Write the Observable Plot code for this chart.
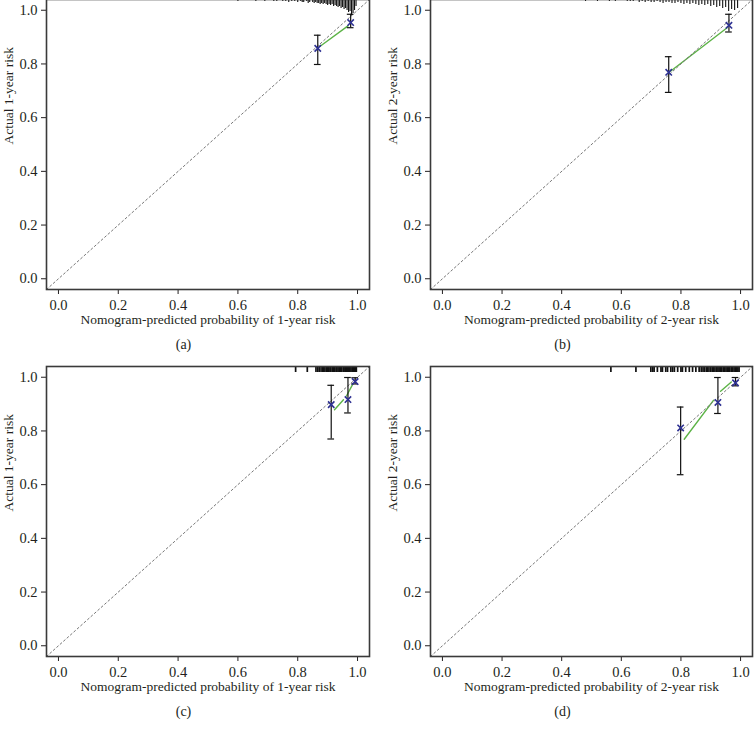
<!DOCTYPE html>
<html><head><meta charset="utf-8">
<script src="https://cdn.jsdelivr.net/npm/d3@7"></script>
<script src="https://cdn.jsdelivr.net/npm/@observablehq/plot@0.6"></script>
<style>
html,body{margin:0;padding:0;background:#fff;}
#wrap{position:relative;width:754px;height:734px;overflow:hidden;background:#fff;}
.panel{position:absolute;}
</style></head><body><div id="wrap"></div>
<script>
// ---- axis values ----
const tickValues = [0, 0.2, 0.4, 0.6, 0.8, 1.0];
const axisDomain = [-0.04, 1.04];

// ---- panel texts ----
const captions = ["(a)", "(b)", "(c)", "(d)"];
const xTitles = [
  "Nomogram-predicted probability of 1-year risk",
  "Nomogram-predicted probability of 2-year risk",
  "Nomogram-predicted probability of 1-year risk",
  "Nomogram-predicted probability of 2-year risk"
];
const yTitles = ["Actual 1-year risk", "Actual 2-year risk", "Actual 1-year risk", "Actual 2-year risk"];

// ---- calibration points (predicted, observed, CI) ----
const predA = [0.867, 0.977], obsA = [0.858, 0.954], loA = [0.798, 0.935], hiA = [0.907, 0.985];
const predB = [0.759, 0.961], obsB = [0.769, 0.944], loB = [0.694, 0.919], hiB = [0.827, 0.985];
const predC = [0.912, 0.968, 0.992], obsC = [0.898, 0.917, 0.984], loC = [0.770, 0.867, 0.975], hiC = [0.970, 0.999, 0.998];
const predD = [0.799, 0.924, 0.983], obsD = [0.811, 0.906, 0.979], loD = [0.637, 0.865, 0.968], hiD = [0.889, 0.999, 0.999];

// ---- green (bias-corrected) line segments ----
const greenAx = [0.875, 0.968], greenAy = [0.866, 0.942], greenAseg = [1, 1];
const greenBx = [0.765, 0.955], greenBy = [0.773, 0.935], greenBseg = [1, 1];
const greenCx = [0.923, 0.953, 0.963, 0.985], greenCy = [0.879, 0.916, 0.930, 0.976], greenCseg = [1, 1, 2, 2];
const greenDx = [0.811, 0.909, 0.933, 0.969], greenDy = [0.769, 0.914, 0.948, 0.982], greenDseg = [1, 1, 2, 2];

// ---- distribution of predictions (top rug) ----
const rugAx = [0.50,0.53,0.56,0.58,0.60,0.62,0.64,0.66,0.67,0.69,0.70,0.72,0.73,0.74,0.75,0.76,0.77,0.78,0.79,0.80,0.81,0.815,0.82,0.83,0.835,0.84,0.85,0.855,0.86,0.865,0.87,0.875,0.88,0.885,0.89,0.895,0.90,0.905,0.91,0.915,0.92,0.925,0.93,0.935,0.94,0.945,0.95,0.955,0.96,0.965,0.97,0.975,0.98,0.985,0.99,0.995];
const rugAn = [1,1,1,1,2,1,1,2,1,2, 1,2,2,1,2,2,3,2,2,3, 2,3,3,2,4,3,3,4,3,4, 4,5,4,5,4,5,6,5,6,5, 7,6,7,8,7,9,8,10,9,11, 13,12,16,14,11,7];
const rugBx = [0.24,0.27,0.30,0.33,0.36,0.39,0.41,0.44,0.46,0.48,0.50,0.52,0.54,0.56,0.58,0.60,0.62,0.63,0.64,0.66,0.67,0.68,0.69,0.70,0.71,0.72,0.73,0.74,0.75,0.76,0.77,0.78,0.79,0.80,0.81,0.82,0.83,0.84,0.85,0.86,0.87,0.88,0.89,0.90,0.91,0.92,0.93,0.94,0.95,0.96,0.97,0.98,0.99];
const rugBn = [1,1,1,1,1,1,1,1,1,2, 1,2,1,2,2,1,2,2,2,3, 2,3,2,3,3,2,3,4,3,3, 4,4,3,4,5,4,5,4,5,6, 5,6,5,7,6,8,7,9,8,12, 10,11,9];
const rugCx = [0.793,0.832,0.861,0.867,0.872,0.878,0.884,0.887,0.891,0.896,0.899,0.904,0.908,0.911,0.916,0.920,0.923,0.928,0.931,0.935,0.940,0.943,0.947,0.952,0.955,0.959,0.963,0.967,0.971,0.974,0.978,0.982,0.986,0.989,0.993,0.996];
const rugDx = [0.565,0.649,0.699,0.705,0.710,0.721,0.733,0.738,0.749,0.755,0.766,0.772,0.778,0.789,0.800,0.805,0.816,0.828,0.839,0.850,0.861,0.868,0.874,0.879,0.885,0.889,0.894,0.900,0.905,0.909,0.914,0.919,0.924,0.928,0.933,0.937,0.942,0.946,0.951,0.955,0.960,0.964,0.969,0.973,0.978,0.982,0.987,0.991,0.995];

// ---- build tables ----
const cal = (p, o, l, h) => p.map((v, i) => ({pred: v, obs: o[i], lo: l[i], hi: h[i]}));
const seg = (x, y, s) => x.map((v, i) => ({x: v, y: y[i], s: s[i]}));
const rug = (x, n) => x.map((v, i) => ({x: v, n: n ? n[i] : 6}));

const panels = [
  {cal: cal(predA, obsA, loA, hiA), green: seg(greenAx, greenAy, greenAseg), rug: rug(rugAx, rugAn), rugW: 1.1},
  {cal: cal(predB, obsB, loB, hiB), green: seg(greenBx, greenBy, greenBseg), rug: rug(rugBx, rugBn), rugW: 1.1},
  {cal: cal(predC, obsC, loC, hiC), green: seg(greenCx, greenCy, greenCseg), rug: rug(rugCx), rugW: 1.7},
  {cal: cal(predD, obsD, loD, hiD), green: seg(greenDx, greenDy, greenDseg), rug: rug(rugDx), rugW: 1.7}
];

// ---- layout ----
const layout = [
  {left: 0,   top: -11, height: 367, mL: 46, mR: 8, mT: 10, mB: 67, capX: 183},
  {left: 377, top: -11, height: 367, mL: 53, mR: 2, mT: 10, mB: 67, capX: 185},
  {left: 0,   top: 356, height: 378, mL: 46, mR: 8, mT: 10, mB: 78, capX: 183},
  {left: 377, top: 356, height: 378, mL: 53, mR: 2, mT: 10, mB: 78, capX: 185}
];

const ink = "#231f20";
const font = "'Liberation Serif', 'Times New Roman', serif";
const wrap = document.getElementById("wrap");

panels.forEach((p, i) => {
  const L = layout[i];
  const W = 377;
  const frameH = L.height - L.mT - L.mB;
  const perPx = (axisDomain[1] - axisDomain[0]) / frameH;
  const capHalf = 3 * perPx;
  const frameCx = L.mL + (W - L.mL - L.mR) / 2;
  const one = [{}];
  const chart = Plot.plot({
    width: W, height: L.height,
    marginLeft: L.mL, marginRight: L.mR, marginTop: L.mT, marginBottom: L.mB,
    style: {fontFamily: font, fontSize: "14.5px", color: ink, background: "transparent", overflow: "visible"},
    x: {domain: axisDomain, ticks: tickValues, tickFormat: d3.format(".1f"), tickSize: 5, tickPadding: 5, label: null},
    y: {domain: axisDomain, ticks: tickValues, tickFormat: d3.format(".1f"), tickSize: 5, tickPadding: 4, label: null},
    marks: [
      Plot.ruleX(p.rug, {x: "x", y1: axisDomain[1], y2: d => axisDomain[1] - d.n * perPx, stroke: "#111", strokeWidth: p.rugW}),
      Plot.line(p.green, {x: "x", y: "y", z: "s", stroke: "#5cb346", strokeWidth: 1.4}),
      Plot.line(axisDomain.map(v => ({v})), {x: "v", y: "v", stroke: "#777", strokeWidth: 1, strokeDasharray: "2,2.6"}),
      Plot.ruleX(p.cal, {x: "pred", y1: "lo", y2: "hi", stroke: "#111", strokeWidth: 1.2}),
      Plot.ruleY(p.cal, {y: "lo", x1: d => d.pred - capHalf, x2: d => d.pred + capHalf, stroke: "#111", strokeWidth: 1.2}),
      Plot.ruleY(p.cal, {y: "hi", x1: d => d.pred - capHalf, x2: d => d.pred + capHalf, stroke: "#111", strokeWidth: 1.2}),
      Plot.dot(p.cal, {x: "pred", y: "obs", symbol: "times", r: 3, stroke: "#2e3192", strokeWidth: 1.6}),
      Plot.frame({stroke: "#3a3a3a", strokeWidth: 1.6}),
      Plot.text(one, {frameAnchor: "bottom", dy: 34, text: () => xTitles[i], fontSize: 13.5, fill: ink}),
      Plot.text(one, {frameAnchor: "left", dx: -38, rotate: -90, text: () => yTitles[i], fontSize: 13.5, fill: ink}),
      Plot.text(one, {frameAnchor: "bottom", dx: L.capX - frameCx, dy: 59, text: () => captions[i], fontSize: 14, fill: ink})
    ]
  });
  const div = document.createElement("div");
  div.className = "panel";
  div.style.left = L.left + "px";
  div.style.top = L.top + "px";
  div.appendChild(chart);
  wrap.appendChild(div);
});
</script>
</body></html>
